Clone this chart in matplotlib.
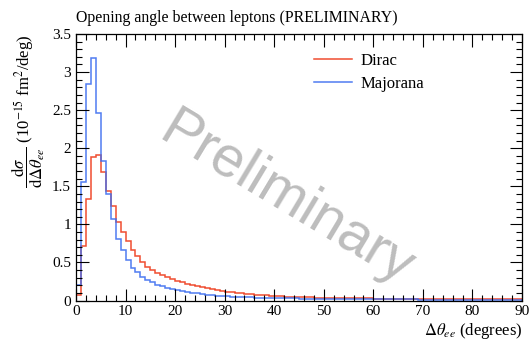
import numpy as np
import matplotlib
matplotlib.use("Agg")
import matplotlib.pyplot as plt
from matplotlib.ticker import MultipleLocator

# Bin definition: 1-degree bins from 0 to 90
bin_edges = list(range(0, 91))

dirac = [
    0.07, 0.72, 1.33, 1.88, 1.91, 1.69, 1.44, 1.24, 1.03, 0.90,
    0.78, 0.66, 0.58, 0.505, 0.44, 0.40, 0.36, 0.33, 0.305, 0.28,
    0.26, 0.24, 0.22, 0.205, 0.19, 0.175, 0.16, 0.148, 0.137, 0.127,
    0.117, 0.108, 0.100, 0.093, 0.087, 0.081, 0.076, 0.071, 0.066, 0.062,
    0.058, 0.055, 0.052, 0.049, 0.047, 0.045, 0.043, 0.041, 0.039, 0.037,
    0.036, 0.035, 0.034, 0.033, 0.032, 0.031, 0.030, 0.029, 0.028, 0.027,
    0.026, 0.026, 0.025, 0.024, 0.024, 0.023, 0.022, 0.022, 0.021, 0.021,
    0.020, 0.020, 0.019, 0.019, 0.018, 0.018, 0.018, 0.017, 0.017, 0.017,
    0.016, 0.016, 0.016, 0.015, 0.015, 0.015, 0.015, 0.014, 0.014, 0.014,
]

majorana = [
    0.20, 1.55, 2.84, 3.18, 2.46, 1.83, 1.40, 1.07, 0.81, 0.66,
    0.53, 0.43, 0.37, 0.31, 0.27, 0.24, 0.21, 0.19, 0.17, 0.155,
    0.14, 0.125, 0.113, 0.102, 0.093, 0.085, 0.078, 0.071, 0.065, 0.060,
    0.055, 0.051, 0.048, 0.045, 0.042, 0.040, 0.038, 0.036, 0.034, 0.033,
    0.031, 0.030, 0.029, 0.028, 0.027, 0.026, 0.025, 0.024, 0.023, 0.022,
    0.021, 0.021, 0.020, 0.020, 0.019, 0.019, 0.018, 0.018, 0.017, 0.017,
    0.016, 0.016, 0.016, 0.015, 0.015, 0.015, 0.014, 0.014, 0.014, 0.013,
    0.013, 0.013, 0.013, 0.012, 0.012, 0.012, 0.012, 0.011, 0.011, 0.011,
    0.011, 0.011, 0.010, 0.010, 0.010, 0.010, 0.010, 0.010, 0.009, 0.009,
]

series_labels = ["Dirac", "Majorana"]
title = "Opening angle between leptons (PRELIMINARY)"
xlabel = r"$\Delta\theta_{ee}$ (degrees)"
ylabel = r"$\dfrac{\mathrm{d}\sigma}{\mathrm{d}\Delta\theta_{ee}}$ (10$^{-15}$ fm$^2$/deg)"

plt.rcParams['font.family'] = ['Liberation Serif', 'DejaVu Serif']
plt.rcParams['mathtext.fontset'] = 'stix'

W, H = 531, 342
fig = plt.figure(figsize=(W / 100, H / 100), dpi=100)
ax = fig.add_axes([76 / W, (H - 300.5) / H, (522 - 76) / W, (300.5 - 34) / H])

red = "#ee3a1a"
blue = "#3d6ef0"
ax.stairs(dirac, bin_edges, color=red, lw=1.1, label=series_labels[0], alpha=0.9)
ax.stairs(majorana, bin_edges, color=blue, lw=1.1, label=series_labels[1], alpha=0.9)

ax.set_xlim(0, 90)
ax.set_ylim(0, 3.5)
ax.xaxis.set_major_locator(MultipleLocator(10))
ax.xaxis.set_minor_locator(MultipleLocator(2))
ax.yaxis.set_major_locator(MultipleLocator(0.5))
ax.yaxis.set_minor_locator(MultipleLocator(0.1))
ax.tick_params(which='both', direction='in', top=True, right=True, labelsize=11)
ax.tick_params(which='major', length=9, width=0.8)
ax.tick_params(which='minor', length=4.5, width=0.8)
ax.set_yticks([0, 0.5, 1, 1.5, 2, 2.5, 3, 3.5])
ax.set_yticklabels(["0", "0.5", "1", "1.5", "2", "2.5", "3", "3.5"])
for s in ax.spines.values():
    s.set_linewidth(0.9)

ax.set_title(title, loc='left', fontsize=11.4, pad=9)
ax.set_xlabel(xlabel, fontsize=12, loc='right', labelpad=2)
ax.set_ylabel(ylabel, fontsize=12, loc='top', labelpad=4)

ax.text((157 - 76) / 446, (300.5 - 139) / 266.5, "Preliminary", transform=ax.transAxes,
        rotation=-31, rotation_mode='anchor', fontsize=41, color="#bdbdbd",
        ha='left', va='baseline', family='Liberation Sans', zorder=0)

ax.legend(loc='upper left', bbox_to_anchor=(0.5, 0.985), frameon=False,
          fontsize=12, handlelength=2.3, handletextpad=0.5, labelspacing=0.4)

fig.savefig("out.png", dpi=100)
